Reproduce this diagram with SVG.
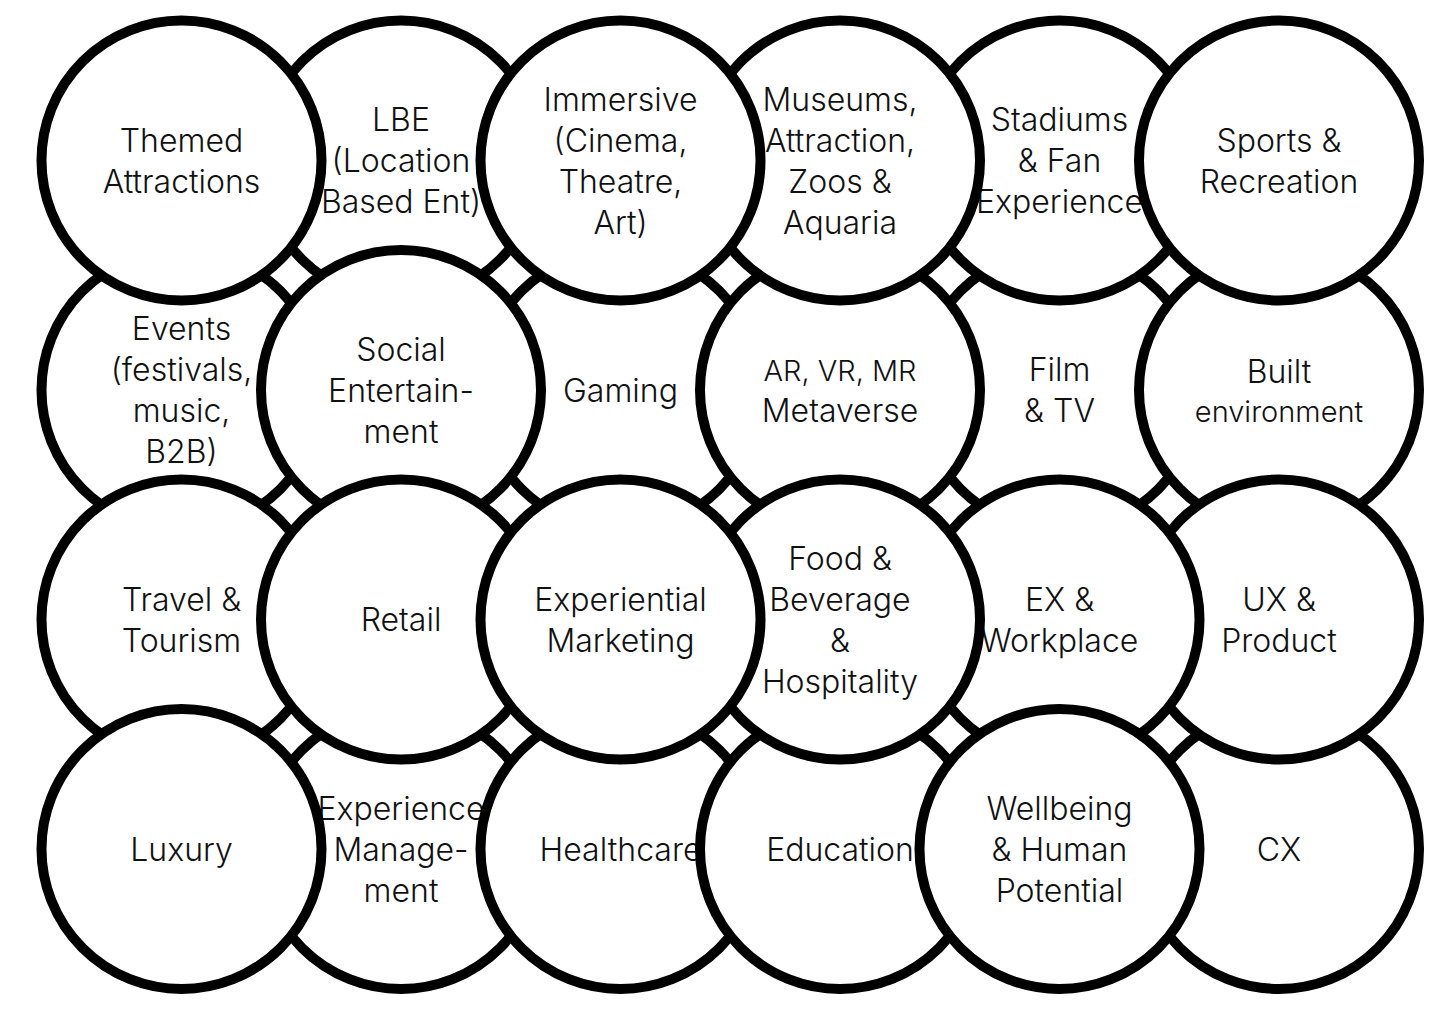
<svg xmlns="http://www.w3.org/2000/svg" width="1456" height="1011" viewBox="0 0 1456 1011">
<style>
circle{fill:#fff;stroke:#000;stroke-width:10}
text{font-family:Inter,"Liberation Sans",sans-serif;font-size:32px;font-weight:300;text-anchor:middle;fill:#111}
.sm{font-size:29px}
</style>
<rect width="1456" height="1011" fill="#fff"/>
<g id="film-tv"><circle cx="1059.5" cy="390" r="140"/><text><tspan x="1059.5" y="381">Film</tspan><tspan x="1059.5" y="422">&amp; TV</tspan></text></g>
<g id="events"><circle cx="181.5" cy="390" r="140"/><text><tspan x="181.5" y="340">Events</tspan><tspan x="181.5" y="381">(festivals,</tspan><tspan x="181.5" y="422">music,</tspan><tspan x="181.5" y="463">B2B)</tspan></text></g>
<g id="lbe"><circle cx="401" cy="160.5" r="140"/><text><tspan x="401" y="131">LBE</tspan><tspan x="401" y="172">(Location</tspan><tspan x="401" y="213">Based Ent)</tspan></text></g>
<g id="gaming"><circle cx="620.5" cy="390" r="140"/><text x="620.5" y="401.5">Gaming</text></g>
<g id="stadiums"><circle cx="1059.5" cy="160.5" r="140"/><text><tspan x="1059.5" y="131">Stadiums</tspan><tspan x="1059.5" y="172">&amp; Fan</tspan><tspan x="1059.5" y="213">Experience</tspan></text></g>
<g id="cx"><circle cx="1279" cy="849" r="140"/><text x="1279" y="860.5">CX</text></g>
<g id="experience-management"><circle cx="401" cy="849" r="140"/><text><tspan x="401" y="819.5">Experience</tspan><tspan x="401" y="860.5">Manage-</tspan><tspan x="401" y="901.5">ment</tspan></text></g>
<g id="built-environment"><circle cx="1279" cy="390" r="140"/><text><tspan x="1279" y="383">Built</tspan><tspan class="sm" x="1279" y="422">environment</tspan></text></g>
<g id="ar-vr-mr"><circle cx="840" cy="390" r="140"/><text><tspan class="sm" x="840" y="381">AR, VR, MR</tspan><tspan x="840" y="422">Metaverse</tspan></text></g>
<g id="museums"><circle cx="840" cy="160.5" r="140"/><text><tspan x="840" y="110.5">Museums,</tspan><tspan x="840" y="151.5">Attraction,</tspan><tspan x="840" y="192.5">Zoos &amp;</tspan><tspan x="840" y="233.5">Aquaria</tspan></text></g>
<g id="social-entertainment"><circle cx="401" cy="390" r="140"/><text><tspan x="401" y="360.5">Social</tspan><tspan x="401" y="401.5">Entertain-</tspan><tspan x="401" y="442.5">ment</tspan></text></g>
<g id="travel-tourism"><circle cx="181.5" cy="619.5" r="140"/><text><tspan x="181.5" y="610.5">Travel &amp;</tspan><tspan x="181.5" y="651.5">Tourism</tspan></text></g>
<g id="ux-product"><circle cx="1279" cy="619.5" r="140"/><text><tspan x="1279" y="610.5">UX &amp;</tspan><tspan x="1279" y="651.5">Product</tspan></text></g>
<g id="ex-workplace"><circle cx="1059.5" cy="619.5" r="140"/><text><tspan x="1059.5" y="610.5">EX &amp;</tspan><tspan x="1059.5" y="651.5">Workplace</tspan></text></g>
<g id="healthcare"><circle cx="620.5" cy="849" r="140"/><text x="620.5" y="860.5">Healthcare</text></g>
<g id="education"><circle cx="840" cy="849" r="140"/><text x="840" y="860.5">Education</text></g>
<g id="food-beverage"><circle cx="840" cy="619.5" r="140"/><text><tspan x="840" y="569.5">Food &amp;</tspan><tspan x="840" y="610.5">Beverage</tspan><tspan x="840" y="651.5">&amp;</tspan><tspan x="840" y="692.5">Hospitality</tspan></text></g>
<g id="retail"><circle cx="401" cy="619.5" r="140"/><text x="401" y="631">Retail</text></g>
<g id="wellbeing"><circle cx="1059.5" cy="849" r="140"/><text><tspan x="1059.5" y="819.5">Wellbeing</tspan><tspan x="1059.5" y="860.5">&amp; Human</tspan><tspan x="1059.5" y="901.5">Potential</tspan></text></g>
<g id="luxury"><circle cx="181.5" cy="849" r="140"/><text x="181.5" y="860.5">Luxury</text></g>
<g id="experiential-marketing"><circle cx="620.5" cy="619.5" r="140"/><text><tspan x="620.5" y="610.5">Experiential</tspan><tspan x="620.5" y="651.5">Marketing</tspan></text></g>
<g id="immersive"><circle cx="620.5" cy="160.5" r="140"/><text><tspan x="620.5" y="110.5">Immersive</tspan><tspan x="620.5" y="151.5">(Cinema,</tspan><tspan x="620.5" y="192.5">Theatre,</tspan><tspan x="620.5" y="233.5">Art)</tspan></text></g>
<g id="themed-attractions"><circle cx="181.5" cy="160.5" r="140"/><text><tspan x="181.5" y="151.5">Themed</tspan><tspan x="181.5" y="192.5">Attractions</tspan></text></g>
<g id="sports-recreation"><circle cx="1279" cy="160.5" r="140"/><text><tspan x="1279" y="151.5">Sports &amp;</tspan><tspan x="1279" y="192.5">Recreation</tspan></text></g>
</svg>
